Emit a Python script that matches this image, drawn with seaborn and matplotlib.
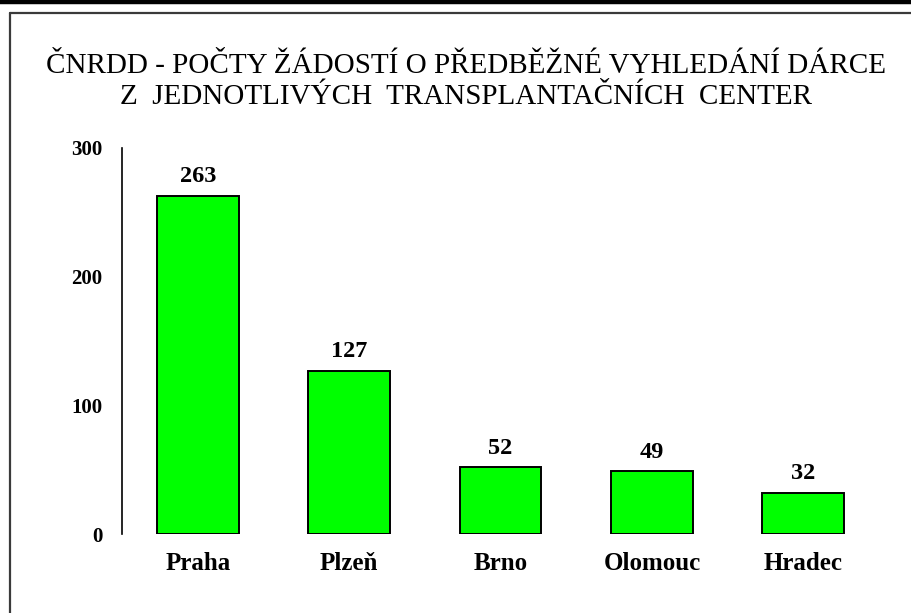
import matplotlib
matplotlib.use("Agg")
import matplotlib.pyplot as plt
import seaborn as sns
import pandas as pd
from matplotlib.lines import Line2D

# Data
centers = ["Praha", "Plzeň", "Brno", "Olomouc", "Hradec"]
requests = [263, 127, 52, 49, 32]
title_lines = [
    "ČNRDD - POČTY ŽÁDOSTÍ O PŘEDBĚŽNÉ VYHLEDÁNÍ DÁRCE",
    "Z  JEDNOTLIVÝCH  TRANSPLANTAČNÍCH  CENTER",
]
y_ticks = [0, 100, 200, 300]

sns.set_style("white")
plt.rcParams["font.family"] = ["Liberation Serif", "DejaVu Serif"]
plt.rcParams["text.color"] = "black"
plt.rcParams["xtick.color"] = "black"
plt.rcParams["ytick.color"] = "black"

df = pd.DataFrame({"center": centers, "requests": requests})

fig = plt.figure(figsize=(9.11, 6.13), dpi=100)
fig.patch.set_facecolor("white")
ax = fig.add_axes([122 / 911, 79 / 613, 757 / 911, 386 / 613])

sns.barplot(data=df, x="center", y="requests", color="#00FF00", saturation=1,
            edgecolor="black", linewidth=1.4, width=0.54, ax=ax)

ax.set_xlim(-0.5, 4.5)
ax.set_ylim(0, 300)
ax.set_yticks(y_ticks)
ax.set_xlabel("")
ax.set_ylabel("")
for s in ["top", "right", "bottom"]:
    ax.spines[s].set_visible(False)
ax.spines["left"].set_color("black")
ax.spines["left"].set_linewidth(1.2)
ax.tick_params(axis="y", length=0, pad=14, labelsize=15)
ax.tick_params(axis="x", length=0, pad=13, labelsize=18)
for lbl in ax.get_xticklabels() + ax.get_yticklabels():
    lbl.set_fontweight("bold")
    lbl.set_color("black")

ax.bar_label(ax.containers[0], labels=[str(v) for v in requests], padding=6,
             fontsize=17.5, fontweight="bold", color="black")

# Title
title_x = 466 / 911
fig.text(title_x, 1 - 66 / 613, title_lines[0], ha="center", va="center", fontsize=21, color="black")
fig.text(title_x, 1 - 97 / 613, title_lines[1], ha="center", va="center", fontsize=21, color="black")

# Page frame lines
fig.add_artist(Line2D([0, 1], [1 - 2 / 613, 1 - 2 / 613], color="black", lw=3.2,
                      transform=fig.transFigure))
fig.add_artist(Line2D([10 / 911, 1], [1 - 13 / 613, 1 - 13 / 613], color="#3a3a3a", lw=1.6,
                      transform=fig.transFigure))
fig.add_artist(Line2D([10 / 911, 10 / 911], [0, 1 - 13 / 613], color="#3a3a3a", lw=1.6,
                      transform=fig.transFigure))

fig.savefig("out.png", dpi=100, facecolor="white")
